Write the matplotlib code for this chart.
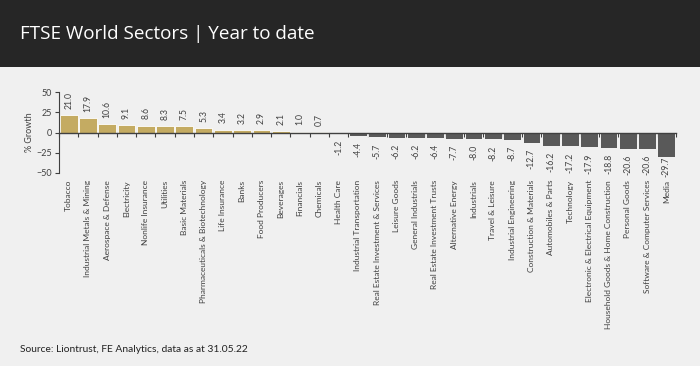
import matplotlib
matplotlib.use("Agg")
import matplotlib.pyplot as plt
import matplotlib.patches as mpatches
from matplotlib.ticker import FixedLocator
import numpy as np

title = "FTSE World Sectors | Year to date"
source = "Source: Liontrust, FE Analytics, data as at 31.05.22"
ylabel = "% Growth"

sectors = [
    "Tobacco", "Industrial Metals & Mining", "Aerospace & Defense", "Electricity",
    "Nonlife Insurance", "Utilities", "Basic Materials",
    "Pharmaceuticals & Biotechnology", "Life Insurance", "Banks", "Food Producers",
    "Beverages", "Financials", "Chemicals", "Health Care",
    "Industrial Transportation", "Real Estate Investment & Services", "Leisure Goods",
    "General Industrials", "Real Estate Investment Trusts", "Alternative Energy",
    "Industrials", "Travel & Leisure", "Industrial Engineering",
    "Construction & Materials", "Automobiles & Parts", "Technology",
    "Electronic & Electrical Equipment", "Household Goods & Home Construction",
    "Personal Goods", "Software & Computer Services", "Media",
]
growth = [
    21.0, 17.9, 10.6, 9.1, 8.6, 8.3, 7.5, 5.3, 3.4, 3.2, 2.9, 2.1, 1.0, 0.7,
    -1.2, -4.4, -5.7, -6.2, -6.2, -6.4, -7.7, -8.0, -8.2, -8.7, -12.7, -16.2,
    -17.2, -17.9, -18.8, -20.6, -20.6, -29.7,
]
yticks = [-50, -25, 0, 25, 50]

BG = "#f0f0f0"
HEADER = "#262626"
GOLD = "#c4ab62"
GREY = "#595959"
TXT = "#404040"
FONT = ["Lato", "DejaVu Sans"]

plt.rcParams["font.family"] = FONT

fig = plt.figure(figsize=(7.0, 3.66), dpi=100)
fig.patch.set_facecolor(BG)

# header band
fig.add_artist(mpatches.Rectangle((0, 1 - 67 / 366), 1, 67 / 366,
                                  transform=fig.transFigure, facecolor=HEADER,
                                  edgecolor="none", zorder=0))
fig.text(20 / 700, 1 - 34 / 366, title, color="white", fontsize=13.6,
         family=["Open Sans", "DejaVu Sans"], va="center", ha="left")
fig.text(20 / 700, 1 - 349 / 366, source, color="#222222", fontsize=7.4,
         family=FONT, va="center", ha="left")

ax_bottom_px, ax_top_px = 173, 92
ax = fig.add_axes([59 / 700, 1 - ax_bottom_px / 366, (676 - 59) / 700,
                   (ax_bottom_px - ax_top_px) / 366])
ax.set_facecolor("none")

x = np.arange(len(sectors))
colors = [GOLD if v >= 0 else GREY for v in growth]
ax.bar(x, growth, width=0.92, color=colors, edgecolor="white", linewidth=0.6,
       zorder=2)

ymin, ymax = -50, 50
ax.set_xlim(-0.5, len(sectors) - 0.5)
ax.set_ylim(ymin, ymax)
ax.set_yticks(yticks)
ax.tick_params(axis="y", labelsize=6.5, labelcolor=TXT, color="#404040",
               length=3, width=0.8, pad=2)
ax.set_ylabel(ylabel, fontsize=6.5, color=TXT, labelpad=2)

for s in ["top", "right"]:
    ax.spines[s].set_visible(False)
ax.spines["left"].set_color("#404040")
ax.spines["left"].set_linewidth(0.8)
ax.spines["bottom"].set_position(("data", 0))
ax.spines["bottom"].set_color("#404040")
ax.spines["bottom"].set_linewidth(1.0)
ax.spines["bottom"].set_zorder(3)

# boundary ticks on zero line
ax.xaxis.set_major_locator(FixedLocator(x))
ax.tick_params(axis="x", which="major", length=0, labelbottom=False)
ax.xaxis.set_minor_locator(FixedLocator(np.arange(len(sectors) + 1) - 0.5))
ax.tick_params(axis="x", which="minor", length=3, width=0.8, color="#404040")

# category labels below the plot area
sec = ax.secondary_xaxis("bottom")
sec.set_xticks(x)
sec.set_xticklabels(sectors, rotation=90, fontsize=6, color=TXT, va="top",
                    ha="center")
sec.tick_params(length=0, pad=5)
sec.spines["bottom"].set_visible(False)

# value labels (kept inside the plot area like the original)
pt_per_unit = (ax_bottom_px - ax_top_px) * 0.72 / (ymax - ymin)
label_len_pt = 13.0
for xi, v in zip(x, growth):
    if v >= 0:
        off = 4.5
    else:
        room = (v - ymin) * pt_per_unit - label_len_pt
        off = -min(4.5, max(0.0, room))
    ax.annotate(f"{v:.1f}", (xi, v), xytext=(0, off),
                textcoords="offset points", rotation=90, ha="center",
                va="bottom" if v >= 0 else "top", fontsize=6.2, color=TXT)

fig.savefig("out.png", dpi=100, facecolor=BG)
